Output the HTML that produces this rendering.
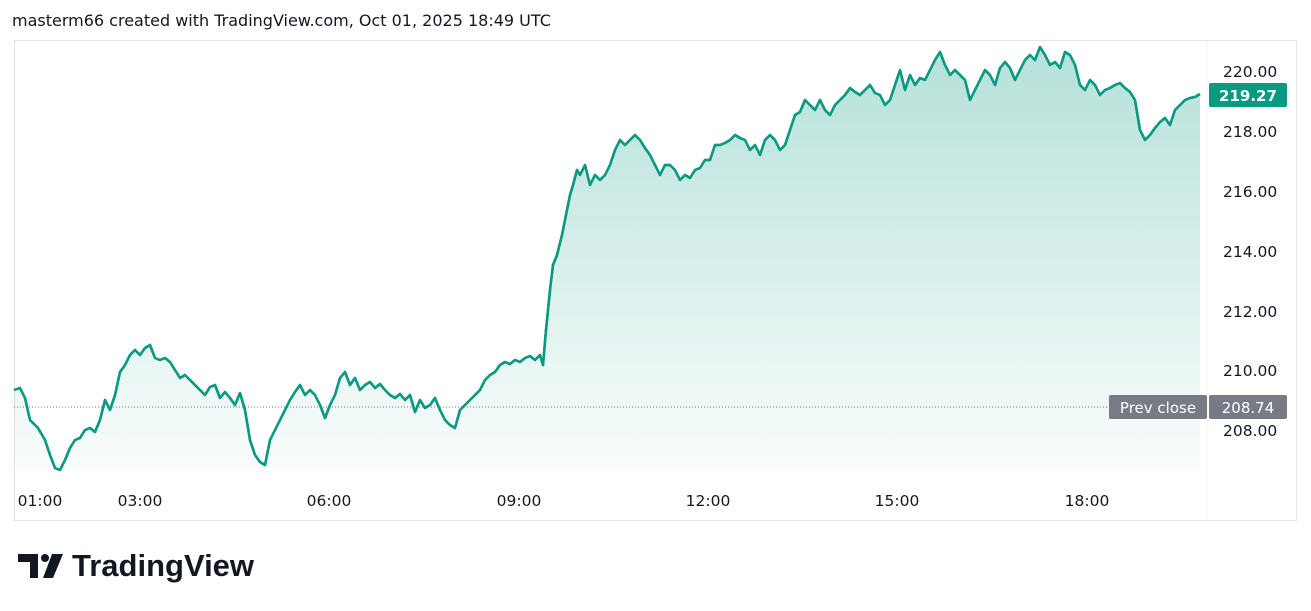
<!DOCTYPE html>
<html><head><meta charset="utf-8"><style>
body{margin:0;width:1311px;height:611px;background:#fff;font-family:"DejaVu Sans",sans-serif;overflow:hidden}
.t{position:absolute;color:#131722}
</style></head><body>
<div class="t" style="left:12px;top:11px;font-size:16px">masterm66 created with TradingView.com, Oct 01, 2025 18:49 UTC</div>
<svg width="1311" height="611" style="position:absolute;left:0;top:0">
<defs><linearGradient id="g" x1="0" y1="0" x2="0" y2="1"><stop offset="0" stop-color="#089981" stop-opacity="0.3"/><stop offset="1" stop-color="#089981" stop-opacity="0.02"/></linearGradient></defs>
<rect x="14.5" y="40.5" width="1282" height="480" fill="none" stroke="#e0e3eb"/>
<line x1="1207" y1="41" x2="1207" y2="520" stroke="#f0f3fa"/>
<line x1="14" y1="407" x2="1207" y2="407" stroke="#787b86" stroke-dasharray="1,2"/>
<path id="p" d="M14,390 L20,388 25,398 30,420 38,428 45,440 50,455 55,468 60,470 65,460 70,448 75,440 80,438 85,430 90,428 95,432 100,420 105,400 110,410 115,395 120,372 125,365 130,355 135,350 140,355 145,348 150,345 155,358 160,360 165,358 170,362 175,370 180,378 185,375 190,380 195,385 200,390 205,395 210,387 215,385 220,398 225,392 230,398 235,405 240,393 245,410 250,440 255,455 260,462 265,465 270,440 275,430 280,420 285,410 290,400 295,392 300,385 305,395 310,390 315,395 320,405 325,418 330,405 335,395 340,378 345,372 350,385 355,378 360,390 365,385 370,382 375,388 380,384 385,390 390,395 395,398 400,394 405,400 410,395 415,412 420,400 425,408 430,405 435,398 440,410 445,420 450,425 455,428 460,410 465,405 470,400 475,395 480,390 485,380 490,375 495,372 500,365 505,362 510,364 515,360 520,362 525,358 530,356 535,360 540,355 543,365 546,330 550,290 553,265 557,255 562,235 566,215 570,195 573,185 577,170 580,175 585,165 590,185 595,175 600,180 605,175 610,165 615,150 620,140 625,145 630,140 635,135 640,140 645,148 650,155 655,165 660,175 665,165 670,165 675,170 680,180 685,175 690,178 695,170 700,168 705,160 710,160 715,145 720,145 725,143 730,140 735,135 740,138 745,140 750,150 755,145 760,155 765,140 770,135 775,140 780,150 785,145 790,130 795,115 800,112 805,100 810,105 815,110 820,100 825,110 830,115 835,105 840,100 845,95 850,88 855,92 860,95 865,90 870,85 875,93 880,95 885,105 890,100 895,85 900,70 905,90 910,75 915,85 920,78 925,80 930,70 935,60 940,52 945,65 950,75 955,70 960,75 965,80 970,100 975,90 980,80 985,70 990,75 995,85 1000,68 1005,62 1010,68 1015,80 1020,70 1025,60 1030,55 1035,60 1040,47 1045,55 1050,65 1055,62 1060,68 1065,52 1070,55 1075,65 1080,85 1085,90 1090,80 1095,85 1100,95 1105,90 1110,88 1115,85 1120,83 1125,88 1130,92 1135,100 1140,130 1145,140 1150,135 1155,128 1160,122 1165,118 1170,125 1175,110 1180,105 1185,100 1190,98 1195,97 1200,94" fill="none" stroke="#089981" stroke-width="2.5" stroke-linejoin="round"/>
<path d="M14,390 L20,388 25,398 30,420 38,428 45,440 50,455 55,468 60,470 65,460 70,448 75,440 80,438 85,430 90,428 95,432 100,420 105,400 110,410 115,395 120,372 125,365 130,355 135,350 140,355 145,348 150,345 155,358 160,360 165,358 170,362 175,370 180,378 185,375 190,380 195,385 200,390 205,395 210,387 215,385 220,398 225,392 230,398 235,405 240,393 245,410 250,440 255,455 260,462 265,465 270,440 275,430 280,420 285,410 290,400 295,392 300,385 305,395 310,390 315,395 320,405 325,418 330,405 335,395 340,378 345,372 350,385 355,378 360,390 365,385 370,382 375,388 380,384 385,390 390,395 395,398 400,394 405,400 410,395 415,412 420,400 425,408 430,405 435,398 440,410 445,420 450,425 455,428 460,410 465,405 470,400 475,395 480,390 485,380 490,375 495,372 500,365 505,362 510,364 515,360 520,362 525,358 530,356 535,360 540,355 543,365 546,330 550,290 553,265 557,255 562,235 566,215 570,195 573,185 577,170 580,175 585,165 590,185 595,175 600,180 605,175 610,165 615,150 620,140 625,145 630,140 635,135 640,140 645,148 650,155 655,165 660,175 665,165 670,165 675,170 680,180 685,175 690,178 695,170 700,168 705,160 710,160 715,145 720,145 725,143 730,140 735,135 740,138 745,140 750,150 755,145 760,155 765,140 770,135 775,140 780,150 785,145 790,130 795,115 800,112 805,100 810,105 815,110 820,100 825,110 830,115 835,105 840,100 845,95 850,88 855,92 860,95 865,90 870,85 875,93 880,95 885,105 890,100 895,85 900,70 905,90 910,75 915,85 920,78 925,80 930,70 935,60 940,52 945,65 950,75 955,70 960,75 965,80 970,100 975,90 980,80 985,70 990,75 995,85 1000,68 1005,62 1010,68 1015,80 1020,70 1025,60 1030,55 1035,60 1040,47 1045,55 1050,65 1055,62 1060,68 1065,52 1070,55 1075,65 1080,85 1085,90 1090,80 1095,85 1100,95 1105,90 1110,88 1115,85 1120,83 1125,88 1130,92 1135,100 1140,130 1145,140 1150,135 1155,128 1160,122 1165,118 1170,125 1175,110 1180,105 1185,100 1190,98 1195,97 1200,94 L1200,472 L14,472 Z" fill="url(#g)"/>
<use href="#p"/>
<rect x="1209" y="83" width="78" height="24" rx="2" fill="#089981"/>
<text x="1248" y="101" text-anchor="middle" fill="#fff" font-size="15" font-weight="bold" font-family="DejaVu Sans">219.27</text>
<rect x="1109" y="395" width="98" height="24" rx="2" fill="#787b86"/>
<rect x="1209" y="395" width="78" height="24" rx="2" fill="#787b86"/>
<text x="1158" y="413" text-anchor="middle" fill="#fff" font-size="15" font-family="DejaVu Sans">Prev close</text>
<text x="1248" y="413" text-anchor="middle" fill="#fff" font-size="15" font-family="DejaVu Sans">208.74</text>
<g font-family="DejaVu Sans" font-size="15.5" fill="#131722">
<text x="1223" y="77">220.00</text><text x="1223" y="137">218.00</text><text x="1223" y="197">216.00</text><text x="1223" y="257">214.00</text><text x="1223" y="317">212.00</text><text x="1223" y="376">210.00</text><text x="1223" y="436">208.00</text>
<g text-anchor="middle"><text x="40" y="506">01:00</text><text x="140" y="506">03:00</text><text x="329" y="506">06:00</text><text x="519" y="506">09:00</text><text x="708" y="506">12:00</text><text x="897" y="506">15:00</text><text x="1087" y="506">18:00</text></g>
</g>
<g fill="#131722"><path d="M18,554 H38 V578 H30 V562 H18 Z"/><circle cx="45" cy="558" r="4"/><path d="M52,554 H63 L53,578 H43 Z"/></g>
<text x="72" y="576" font-family="Liberation Sans" font-size="31" font-weight="bold" fill="#131722">TradingView</text>
</svg>
</body></html>
